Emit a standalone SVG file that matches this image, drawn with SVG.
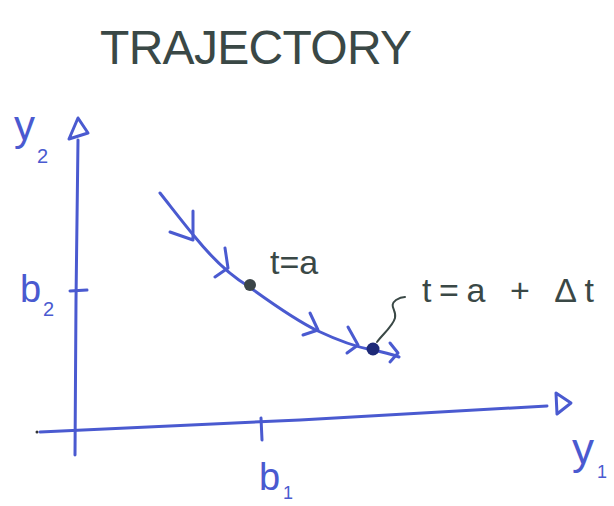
<svg xmlns="http://www.w3.org/2000/svg" width="614" height="506" viewBox="0 0 614 506">
<style>
  .blue { stroke: #4a5ad0; fill: none; stroke-width: 3; stroke-linecap: round; stroke-linejoin: round; }
  .bluet { fill: #4a5ad0; font-family: "Liberation Sans", "DejaVu Sans", sans-serif; }
  .gray { fill: #3a4846; font-family: "Liberation Sans", "DejaVu Sans", sans-serif; }
  .grayline { stroke: #3a4846; fill: none; stroke-width: 2; stroke-linecap: round; }
</style>
<rect width="614" height="506" fill="#ffffff"/>

<g id="title">
  <text class="gray" x="100" y="64" font-size="48" textLength="312" lengthAdjust="spacing">TRAJECTORY</text>
</g>

<g id="y-axis">
  <path class="blue" d="M75,455 L76,300 L78,140"/>
  <path class="blue" d="M69,139 L78,118 L88,133 Z"/>
  <path class="blue" d="M70,291 L87,290"/>
  <text class="bluet" x="14" y="140" font-size="42">y</text>
  <text class="bluet" x="37" y="163" font-size="20">2</text>
  <text class="bluet" x="20" y="302" font-size="38">b</text>
  <text class="bluet" x="43" y="316" font-size="20">2</text>
</g>

<g id="x-axis">
  <circle cx="37" cy="432" r="1.5" fill="#333"/>
  <path class="blue" d="M40,432 L300,420 L547,406"/>
  <path class="blue" d="M556,393 L571,403 L557,414 Z"/>
  <path class="blue" d="M261,418 L262,440"/>
  <text class="bluet" x="259" y="490" font-size="38">b</text>
  <text class="bluet" x="283" y="499" font-size="18">1</text>
  <text class="bluet" x="572" y="464" font-size="44">y</text>
  <text class="bluet" x="597" y="478" font-size="18">1</text>
</g>

<g id="trajectory">
  <path class="blue" d="M160,193 C175,212 185,225 195,237 C212,258 228,274 248,286 C270,302 295,320 318,331 C335,339 352,346 372,350 C383,352 391,354 399,357"/>
  <path class="blue" d="M170,232 L193,240 L193,211"/>
  <path class="blue" d="M215,277 L228,268 L225,248"/>
  <path class="blue" d="M303,335 L318,330 L310,313"/>
  <path class="blue" d="M347,353 L358,345 L348,327"/>
  <path class="blue" d="M390,362 L398,353 L390,343"/>
</g>

<g id="point-t">
  <circle cx="250" cy="285" r="6" fill="#3b4548"/>
  <text class="gray" x="270" y="274" font-size="34">t=a</text>
</g>

<g id="point-t-dt">
  <circle cx="373" cy="349" r="6.5" fill="#1e2a78"/>
  <text class="gray" x="422" y="302" font-size="34" textLength="172" lengthAdjust="spacing">t=a + Δt</text>
</g>

<g id="connectors">
  <path class="grayline" d="M377,342 C382,335 393,326 395,318 C397,310 388,306 396,300 C399,298 402,297 405,297"/>
</g>
</svg>
